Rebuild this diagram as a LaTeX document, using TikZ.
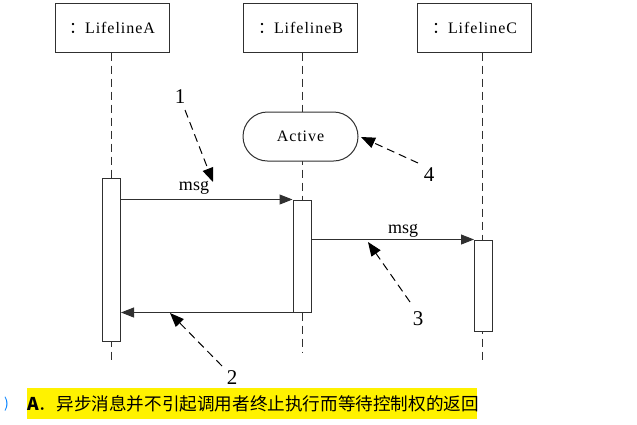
\documentclass[tikz,border=0pt]{standalone}
\usepackage{fontspec}
\setmainfont{Liberation Serif}
\newfontfamily\cjk{Noto Sans CJK SC}
\newfontfamily\spaced[LetterSpace=6]{Liberation Serif}
\usetikzlibrary{arrows.meta,shapes.misc}
\definecolor{ln}{HTML}{303030}
\begin{document}
\begin{tikzpicture}[x=1pt,y=-1pt,
  lifebox/.style={draw=ln,line width=1pt,fill=white,minimum width=114pt,minimum height=49pt,inner sep=0pt,font=\spaced\fontsize{16}{18}\selectfont},
  actbar/.style={draw=ln,line width=1pt,fill=white,minimum width=18pt,inner sep=0pt},
  lifeline/.style={draw=ln,line width=1pt,dash pattern=on 8pt off 5pt},
  msgarrow/.style={draw=ln,line width=1pt,-{Triangle[length=13pt,width=10pt]}},
  notearrow/.style={draw=black,line width=1pt,dash pattern=on 8pt off 5pt,-{Triangle[length=14pt,width=11pt]}},
  numlbl/.style={font=\fontsize{21}{23}\selectfont,inner sep=0pt},
  msglbl/.style={font=\fontsize{18}{20}\selectfont,inner sep=0pt}]
\useasboundingbox (0,0) rectangle (637,424);
% lifeline heads
\node[lifebox] (boxA) at (112,27.5) {{\cjk ：}LifelineA};
\node[lifebox] (boxB) at (300.5,27.5) {{\cjk ：}LifelineB};
\node[lifebox] (boxC) at (474.5,27.5) {{\cjk ：}LifelineC};
% lifeline ends
\coordinate (endA) at (111.5,362);
\coordinate (endB) at (302,353);
\coordinate (endC) at (482,362);
\draw[lifeline] (boxA.south -| endA) -- (endA);
\draw[lifeline] (boxB.south -| endB) -- (endB);
\draw[lifeline] (boxC.south -| endC) -- (endC);
% state
\node[draw=ln,line width=1pt,fill=white,rounded rectangle,minimum width=115pt,minimum height=49pt,inner sep=0pt,font=\spaced\fontsize{16}{18}\selectfont] (active) at (300.5,136.5) {Active};
% activation bars
\node[actbar,minimum height=163pt] (actA) at (111.5,259.5) {};
\node[actbar,minimum height=112pt] (actB) at (302,256) {};
\node[actbar,minimum height=91pt] (actC) at (483.5,285.5) {};
% messages
\draw[msgarrow] (actA.east |- actB.north) -- (actB.north west);
\node[msglbl] (m1) at (194,188) {msg};
\draw[msgarrow] (actB.east |- actC.north) -- (actC.north west);
\node[msglbl] (m2) at (403,231) {msg};
\draw[msgarrow] (actB.south west) -- (actA.east |- actB.south);
% callouts
\node[numlbl] (n1) at (180,97) {1};
\node[numlbl] (n2) at (232,378) {2};
\node[numlbl] (n3) at (418,319) {3};
\node[numlbl] (n4) at (429,175) {4};
\coordinate (t1) at (213,182);
\coordinate (t2) at (170,313);
\coordinate (t3) at (368,242);
\coordinate (t4) at (361,137);
\draw[notearrow] (185,110) -- (t1);
\draw[notearrow] (222,366) -- (t2);
\draw[notearrow] (410,302) -- (t3);
\draw[notearrow] (418,163) -- (t4);
% bottom text
\fill[yellow] (27,388) rectangle (477,419);
\node[anchor=west,inner sep=0pt,font=\cjk\fontsize{17.6}{19}\selectfont,text=black] (ans) at (27,404) {\textbf{A}．异步消息并不引起调用者终止执行而等待控制权的返回};
\node[anchor=west,inner sep=0pt,font=\cjk\fontsize{14}{16}\selectfont,text=blue!50!cyan] (par) at (4,404) {)};
\end{tikzpicture}
\end{document}
